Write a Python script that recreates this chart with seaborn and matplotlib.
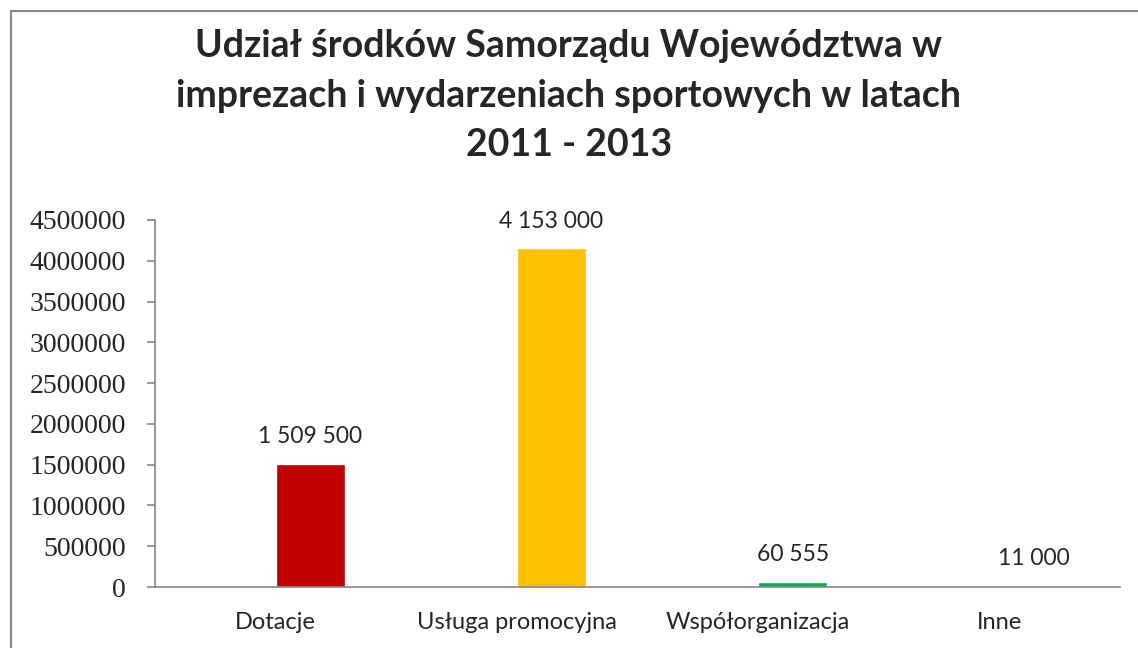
import seaborn as sns
import matplotlib.pyplot as plt
from matplotlib.patches import Rectangle
import pandas as pd

# data
categories = ["Dotacje", "Usługa promocyjna", "Współorganizacja", "Inne"]
values = [1509500, 4153000, 60555, 11000]
colors = ["#C00000", "#FFC000", "#00B050", "#4F81BD"]
yticks = list(range(0, 4500001, 500000))
title = "Udział środków Samorządu Województwa w\nimprezach i wydarzeniach sportowych w latach\n2011 - 2013"

df = pd.DataFrame({"kategoria": categories, "kwota": values})

sns.set_style("white")
plt.rcParams["font.family"] = ["Lato", "DejaVu Sans"]

fig = plt.figure(figsize=(11.38, 6.48), dpi=100)
ax = fig.add_axes([0.1362, 0.0941, 0.848, 0.5664])

sns.barplot(data=df, x="kategoria", y="kwota", hue="kategoria",
            palette=colors, width=0.286, legend=False, ax=ax, saturation=1)

# bars sit to the right of the category centre (like an Excel cluster with an empty series)
for p in ax.patches:
    p.set_x(p.get_x() + p.get_width() / 2)

ax.set_xlim(-0.5, 3.5)
ax.set_ylim(0, 4500000)
ax.set_yticks(yticks)
ax.set_yticklabels([str(v) for v in yticks], fontfamily="Liberation Serif", fontsize=20)
ax.set_xticks([-0.5, 0.5, 1.5, 2.5, 3.5])
ax.set_xticklabels([])
ax.set_xticks(range(4), minor=True)
ax.set_xticklabels(categories, minor=True, fontsize=17)
ax.tick_params(axis="x", which="minor", length=0, pad=18)
ax.tick_params(axis="x", which="major", length=6, color="#868686", width=1.2)
ax.tick_params(axis="y", length=6, color="#868686", width=1.2, pad=15, left=True)
ax.set_xlabel("")
ax.set_ylabel("")

for s in ["top", "right"]:
    ax.spines[s].set_visible(False)
for s in ["left", "bottom"]:
    ax.spines[s].set_color("#868686")
    ax.spines[s].set_linewidth(1.2)

for p, v in zip(ax.patches, values):
    lbl = f"{v:,}".replace(",", " ")
    ax.annotate(lbl, (p.get_x() + p.get_width() / 2, v), xytext=(0, 12),
                textcoords="offset points", ha="center", va="bottom", fontsize=16.5)

fig.text(0.5, 0.955, title, ha="center", va="top", fontsize=27,
         fontweight="bold", linespacing=1.55)

fig.patches.append(Rectangle((0.0097, -0.5), 2.0, 1.483, transform=fig.transFigure,
                             fill=False, edgecolor="#868686", linewidth=1.5))

fig.savefig("out.png", dpi=100)
